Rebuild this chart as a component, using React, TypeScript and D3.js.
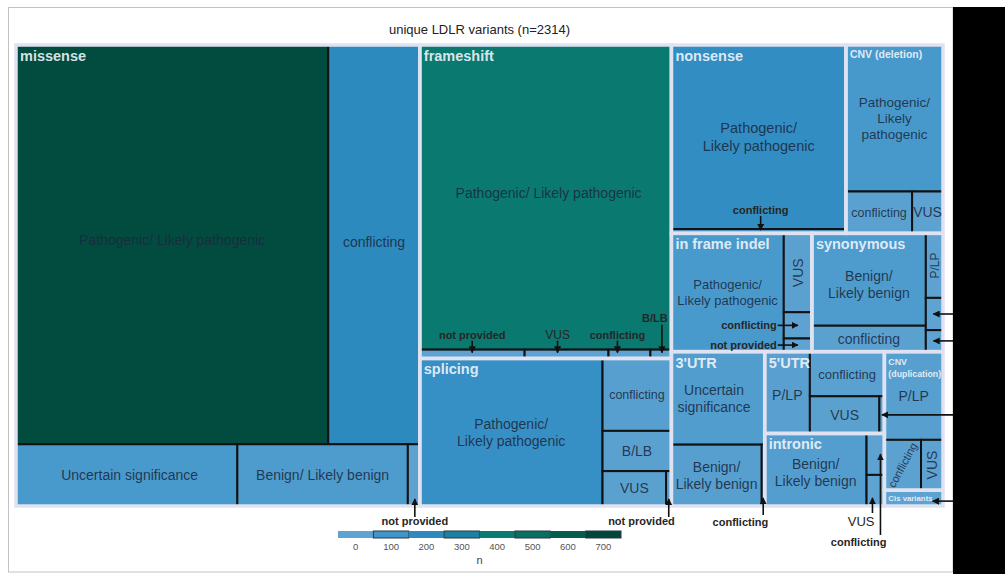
import React, { useMemo } from "react";
import * as d3 from "d3";

// ---------- data ----------
const title = "unique LDLR variants (n=2314)";

const groupNames = [
  "missense", "frameshift", "splicing", "nonsense", "CNV (deletion)", "in frame indel",
  "synonymous", "3'UTR", "5'UTR", "intronic", "CNV (duplication)", "Cis variants",
];

const cellGroup = [
  "missense", "missense", "missense", "missense", "missense",
  "frameshift", "frameshift", "frameshift", "frameshift", "frameshift",
  "splicing", "splicing", "splicing", "splicing", "splicing",
  "nonsense", "nonsense",
  "CNV (deletion)", "CNV (deletion)", "CNV (deletion)",
  "in frame indel", "in frame indel", "in frame indel", "in frame indel",
  "synonymous", "synonymous", "synonymous", "synonymous", "synonymous",
  "3'UTR", "3'UTR", "3'UTR",
  "5'UTR", "5'UTR", "5'UTR", "5'UTR",
  "intronic", "intronic", "intronic",
  "CNV (duplication)", "CNV (duplication)", "CNV (duplication)",
  "Cis variants",
];

const cellCategory = [
  "P/LP", "conflicting", "VUS", "B/LB", "not provided",
  "P/LP", "not provided", "VUS", "conflicting", "B/LB",
  "P/LP", "conflicting", "B/LB", "VUS", "not provided",
  "P/LP", "conflicting",
  "P/LP", "conflicting", "VUS",
  "P/LP", "VUS", "conflicting", "not provided",
  "B/LB", "conflicting", "P/LP", "VUS", "not provided",
  "VUS", "B/LB", "conflicting",
  "P/LP", "conflicting", "VUS", "B/LB",
  "B/LB", "conflicting", "VUS",
  "P/LP", "conflicting", "VUS",
  "Cis variants",
];

const cellN = [
  675, 198, 74, 57, 4,
  415, 5, 4, 2, 1,
  146, 27, 15, 12, 1,
  174, 4,
  77, 15, 7,
  72, 12, 4, 2,
  57, 16, 6, 3, 2,
  47, 30, 1,
  20, 18, 14, 1,
  40, 4, 3,
  28, 10, 6,
  5,
];

const cellText = [
  "Pathogenic/ Likely pathogenic", "conflicting", "Uncertain significance", "Benign/ Likely benign", "",
  "Pathogenic/ Likely pathogenic", "", "", "", "",
  "Pathogenic/\nLikely pathogenic", "conflicting", "B/LB", "VUS", "",
  "Pathogenic/\nLikely pathogenic", "",
  "Pathogenic/\nLikely\npathogenic", "conflicting", "VUS",
  "Pathogenic/\nLikely pathogenic", "VUS", "", "",
  "Benign/\nLikely benign", "conflicting", "P/LP", "", "",
  "Uncertain\nsignificance", "Benign/\nLikely benign", "",
  "P/LP", "conflicting", "VUS", "",
  "Benign/\nLikely benign", "", "",
  "P/LP", "conflicting", "VUS",
  "",
];

const legendTicks = [0, 100, 200, 300, 400, 500, 600, 700];
const legendColors = ["#5fa3d1", "#4096ca", "#2c8abf", "#1a82a0", "#0a7b73", "#077060", "#045d4d", "#00463a"];

// ---------- styles (not data) ----------
type LS = { size: number; rotate?: number; dx?: number; dy?: number };
const labelStyle: Record<string, LS> = {
  "missense|P/LP": { size: 14, dy: -5 },
  "missense|conflicting": { size: 14, dy: -3 },
  "missense|VUS": { size: 14, dx: 3 },
  "missense|B/LB": { size: 14 },
  "frameshift|P/LP": { size: 14, dx: 3, dy: -4 },
  "splicing|P/LP": { size: 14 },
  "splicing|conflicting": { size: 12.5 },
  "splicing|B/LB": { size: 14 },
  "splicing|VUS": { size: 14 },
  "nonsense|P/LP": { size: 14.5 },
  "CNV (deletion)|P/LP": { size: 13.5 },
  "CNV (deletion)|conflicting": { size: 12.5 },
  "CNV (deletion)|VUS": { size: 14 },
  "in frame indel|P/LP": { size: 13 },
  "in frame indel|VUS": { size: 14, rotate: -90 },
  "synonymous|B/LB": { size: 14, dy: 5 },
  "synonymous|conflicting": { size: 14 },
  "synonymous|P/LP": { size: 12, rotate: -90 },
  "3'UTR|VUS": { size: 14, dx: -4 },
  "3'UTR|B/LB": { size: 14 },
  "5'UTR|P/LP": { size: 14, dy: 3 },
  "5'UTR|conflicting": { size: 13 },
  "5'UTR|VUS": { size: 14 },
  "intronic|B/LB": { size: 14, dy: 3 },
  "CNV (duplication)|P/LP": { size: 14 },
  "CNV (duplication)|conflicting": { size: 11, rotate: -62 },
  "CNV (duplication)|VUS": { size: 14, rotate: -90 },
};

type GS = { size: number; dy: number; lh?: number; lines?: string[]; center?: boolean };
const groupStyle: Record<string, GS> = {
  "CNV (deletion)": { size: 10.5, dy: 13 },
  "CNV (duplication)": { size: 8.8, dy: 13.5, lh: 11.5, lines: ["CNV", "(duplication)"] },
  "Cis variants": { size: 7.8, dy: 3, center: true },
};

type Ann = {
  key: string; text?: string; dir: "up" | "down" | "right" | "left";
  ax?: number; ay?: number; tail?: number; tip?: number; tipCenter?: boolean;
  anchor?: string; tx?: number; ty?: number; size?: number; weight?: number;
};
const annotations: Ann[] = [
  { key: "missense|not provided", text: "not provided", dir: "up", ax: 1, tail: 11, tip: -7, anchor: "middle", tx: 0, ty: 19, size: 11, weight: 700 },
  { key: "splicing|not provided", text: "not provided", dir: "up", ax: 0, tail: 11, tip: -7, anchor: "end", tx: 6, ty: 19, size: 11, weight: 700 },
  { key: "3'UTR|conflicting", text: "conflicting", dir: "up", ax: 0, tail: 9, tip: -8, anchor: "end", tx: 5, ty: 20, size: 11, weight: 700 },
  { key: "intronic|VUS", text: "VUS", dir: "up", ax: -3, tail: 7, tip: -8, anchor: "end", tx: 2, ty: 20, size: 13, weight: 400 },
  { key: "intronic|conflicting", text: "conflicting", dir: "up", ax: 5, tail: 29, tipCenter: true, anchor: "end", tx: 6, ty: 40, size: 11, weight: 700 },
  { key: "frameshift|not provided", text: "not provided", dir: "down", ax: 0, tail: -9, tip: 3, anchor: "middle", tx: 0, ty: -11, size: 11, weight: 700 },
  { key: "frameshift|VUS", text: "VUS", dir: "down", ax: -9, tail: -9, tip: 3, anchor: "middle", tx: 0, ty: -11, size: 12, weight: 400 },
  { key: "frameshift|conflicting", text: "conflicting", dir: "down", ax: -12, tail: -9, tip: 3, anchor: "middle", tx: 0, ty: -11, size: 11, weight: 700 },
  { key: "frameshift|B/LB", text: "B/LB", dir: "down", ax: 1, tail: -25, tip: 3, anchor: "middle", tx: -7, ty: -28, size: 11, weight: 700 },
  { key: "nonsense|conflicting", text: "conflicting", dir: "down", ax: 2, tail: -13, tip: 1, anchor: "middle", tx: 0, ty: -15, size: 11, weight: 700 },
  { key: "in frame indel|conflicting", text: "conflicting", dir: "right", tail: -6, size: 11, weight: 700 },
  { key: "in frame indel|not provided", text: "not provided", dir: "right", tail: -6, size: 11, weight: 700 },
  { key: "synonymous|VUS", dir: "left", ax: -1, ay: 0 },
  { key: "synonymous|not provided", dir: "left", ax: -1, ay: 0 },
  { key: "5'UTR|B/LB", dir: "left", ax: 0, ay: 0 },
  { key: "Cis variants|Cis variants", dir: "left", ax: 19, ay: 3 },
];

// ---------- pivot-by-size tiling ----------
function placePivot(nodes: any[], x0: number, y0: number, x1: number, y1: number) {
  if (!nodes || nodes.length === 0) return;
  if (nodes.length === 1) {
    Object.assign(nodes[0], { x0, y0, x1, y1 });
    return;
  }
  const total = d3.sum(nodes, (n: any) => n.value);
  const w = x1 - x0, h = y1 - y0;
  const wide = w >= h;
  const pivot = nodes[0];
  const rest = nodes.slice(1);
  let bestK = 0, bestAR = Infinity, acc = 0;
  for (let k = 0; k <= rest.length; k++) {
    if (k > 0) acc += rest[k - 1].value;
    const strip = (pivot.value + acc) / total;
    const share = pivot.value / (pivot.value + acc);
    const pw = wide ? w * strip : w * share;
    const ph = wide ? h * share : h * strip;
    const ar = Math.max(pw / ph, ph / pw);
    if (ar < bestAR) { bestAR = ar; bestK = k; }
  }
  const l2 = rest.slice(0, bestK), l3 = rest.slice(bestK);
  const s2 = d3.sum(l2, (n: any) => n.value);
  const strip = (pivot.value + s2) / total;
  const share = pivot.value / (pivot.value + s2);
  if (wide) {
    const xm = x0 + w * strip;
    const ym = y0 + h * share;
    Object.assign(pivot, { x0, y0, x1: xm, y1: ym });
    placePivot(l2, x0, ym, xm, y1);
    placePivot(l3, xm, y0, x1, y1);
  } else {
    const ym = y0 + h * strip;
    const xm = x0 + w * share;
    Object.assign(pivot, { x0, y0, x1: xm, y1: ym });
    placePivot(l2, xm, y0, x1, ym);
    placePivot(l3, x0, ym, x1, y1);
  }
}
const pivotTile = (parent: any, x0: number, y0: number, x1: number, y1: number) =>
  placePivot(parent.children, x0, y0, x1, y1);

// ---------- component ----------
const W = 1005, H = 574;
const TM = { x: 16, y: 45, w: 927, h: 461 };
const BLACK_X = 953;
const FONT = "'Liberation Sans', Arial, Helvetica, sans-serif";

export default function App() {
  const { groups, leaves, byKey } = useMemo(() => {
    const data = {
      name: "root",
      children: groupNames.map((g) => ({
        name: g,
        children: cellGroup
          .map((cg, i) => ({ cg, i }))
          .filter((o) => o.cg === g)
          .map(({ i }) => ({ name: cellCategory[i], group: g, value: cellN[i], text: cellText[i] })),
      })),
    };
    const root = d3
      .hierarchy<any>(data)
      .sum((d: any) => d.value || 0)
      .sort((a: any, b: any) => b.value - a.value);
    d3.treemap<any>().tile(pivotTile as any).size([TM.w, TM.h]).round(false)(root);
    const groups = (root.children || []) as any[];
    const leaves = root.leaves() as any[];
    const byKey: Record<string, any> = {};
    leaves.forEach((l) => (byKey[l.data.group + "|" + l.data.name] = l));
    return { groups, leaves, byKey };
  }, []);

  const color = d3
    .scaleLinear<string>()
    .domain(legendTicks)
    .range(legendColors)
    .interpolate(d3.interpolateRgb)
    .clamp(true);

  const legendX = d3.scaleLinear().domain([-50, 750]).range([338, 621]);

  const X = (v: number) => TM.x + v;
  const Y = (v: number) => TM.y + v;

  const renderCellLabel = (l: any, idx: number) => {
    const key = l.data.group + "|" + l.data.name;
    const txt: string = l.data.text;
    if (!txt) return null;
    const st = labelStyle[key] || { size: 13 };
    const cx = X((l.x0 + l.x1) / 2) + (st.dx || 0);
    const cy = Y((l.y0 + l.y1) / 2) + (st.dy || 0);
    const lines = txt.split("\n");
    const lh = st.size * 1.22;
    const first = -((lines.length - 1) * lh) / 2 + st.size * 0.35;
    return (
      <text
        key={"cl" + idx}
        transform={`translate(${cx},${cy}) rotate(${st.rotate || 0})`}
        textAnchor="middle"
        fontSize={st.size}
        fill="#1c2940"
        fillOpacity={0.88}
      >
        {lines.map((ln, j) => (
          <tspan key={j} x={0} y={first + j * lh}>
            {ln}
          </tspan>
        ))}
      </text>
    );
  };

  const renderGroupLabel = (g: any, idx: number) => {
    const name: string = g.data.name;
    const st = groupStyle[name] || { size: 14.5, dy: 16 };
    const lines = st.lines || [name];
    const x = X(g.x0) + 4;
    const y0 = st.center ? Y((g.y0 + g.y1) / 2) + st.dy : Y(g.y0) + st.dy;
    return (
      <text key={"gl" + idx} x={x} y={y0} fontSize={st.size} fontWeight={700} fill="#f2f5fb" fillOpacity={0.9}>
        {lines.map((ln, j) => (
          <tspan key={j} x={x} y={y0 + j * (st.lh || 0)}>
            {ln}
          </tspan>
        ))}
      </text>
    );
  };

  const renderAnn = (a: Ann, idx: number) => {
    const l = byKey[a.key];
    if (!l) return null;
    const x0 = X(l.x0), x1 = X(l.x1), y0 = Y(l.y0), y1 = Y(l.y1);
    const cx = (x0 + x1) / 2, cy = (y0 + y1) / 2;
    const gy1 = Y(l.parent.y1);
    let line: [number, number, number, number];
    let label: { x: number; y: number; anchor: string } | null = null;
    if (a.dir === "up") {
      const ax = cx + (a.ax || 0);
      const tipY = a.tipCenter ? cy : gy1 + (a.tip || 0);
      line = [ax, gy1 + (a.tail || 0), ax, tipY];
      label = { x: ax + (a.tx || 0), y: gy1 + (a.ty || 0), anchor: a.anchor || "middle" };
    } else if (a.dir === "down") {
      const ax = cx + (a.ax || 0);
      line = [ax, y0 + (a.tail || 0), ax, y0 + (a.tip || 0)];
      label = { x: ax + (a.tx || 0), y: y0 + (a.ty || 0), anchor: a.anchor || "middle" };
    } else if (a.dir === "right") {
      line = [x0 + (a.tail || 0), cy, cx, cy];
      label = { x: x0 + (a.tail || 0) - 1, y: cy + 4, anchor: "end" };
    } else {
      line = [BLACK_X + 10, cy + (a.ay || 0), cx + (a.ax || 0), cy + (a.ay || 0)];
    }
    return (
      <g key={"an" + idx}>
        <line x1={line[0]} y1={line[1]} x2={line[2]} y2={line[3]} stroke="#111" strokeWidth={1.6} markerEnd="url(#arrowHead)" />
        {a.text && label && (
          <text x={label.x} y={label.y} textAnchor={label.anchor as any} fontSize={a.size || 11} fontWeight={a.weight || 400} fill="#262626">
            {a.text}
          </text>
        )}
      </g>
    );
  };

  return (
    <svg
      width={W}
      height={H}
      viewBox={`0 0 ${W} ${H}`}
      style={{ position: "absolute", left: 0, top: 0, fontFamily: FONT }}
    >
      <defs>
        <marker id="arrowHead" viewBox="0 0 10 10" refX={9} refY={5} markerWidth={7} markerHeight={7} markerUnits="userSpaceOnUse" orient="auto">
          <path d="M0,0 L10,5 L0,10 z" fill="#111" />
        </marker>
      </defs>
      <rect x={0} y={0} width={W} height={H} fill="#ffffff" />
      <rect x={8.5} y={7.5} width={BLACK_X - 8.5} height={564.5} fill="none" stroke="#c2c2c2" strokeWidth={1} />

      <text x={TM.x + TM.w / 2} y={33.5} textAnchor="middle" fontSize={13} fill="#222">
        {title}
      </text>

      {/* cells */}
      {leaves.map((l, i) => (
        <rect
          key={"c" + i}
          x={X(l.x0)}
          y={Y(l.y0)}
          width={l.x1 - l.x0}
          height={l.y1 - l.y0}
          fill={color(l.value)}
          stroke="#121212"
          strokeWidth={2}
        />
      ))}

      {/* group borders */}
      {groups.map((g, i) => (
        <rect
          key={"g" + i}
          x={X(g.x0)}
          y={Y(g.y0)}
          width={g.x1 - g.x0}
          height={g.y1 - g.y0}
          fill="none"
          stroke="#dfe2f1"
          strokeWidth={3.5}
        />
      ))}

      {leaves.map(renderCellLabel)}
      {groups.map(renderGroupLabel)}
      {annotations.map(renderAnn)}

      {/* legend */}
      <g>
        {legendTicks.map((v, i) => (
          <rect
            key={"lg" + i}
            x={legendX(v - 50)}
            y={531}
            width={legendX(v + 50) - legendX(v - 50)}
            height={7}
            fill={color(v)}
            stroke={i % 2 === 1 ? "#2a3a44" : "none"}
            strokeWidth={1}
          />
        ))}
        {legendTicks.map((v, i) => (
          <text key={"lt" + i} x={legendX(v)} y={549.5} textAnchor="middle" fontSize={9.5} fill="#555">
            {v}
          </text>
        ))}
        <text x={legendX(350)} y={564} textAnchor="middle" fontSize={11} fill="#444">
          n
        </text>
      </g>

      <rect x={BLACK_X} y={7} width={W - BLACK_X} height={H - 7} fill="#000" />
    </svg>
  );
}
